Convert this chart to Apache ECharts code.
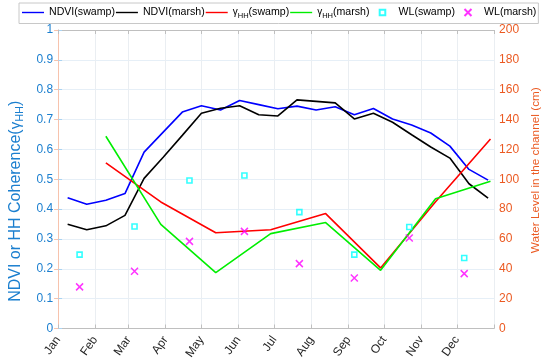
<!DOCTYPE html>
<html>
<head>
<meta charset="utf-8">
<script src="https://cdn.jsdelivr.net/npm/echarts@6/dist/echarts.min.js"></script>
<style>html,body{margin:0;padding:0;background:#fff;}#c{width:550px;height:362px;}</style>
</head>
<body>
<div id="c"></div>
<script>
// Month boundaries (day of year, 0 = Jan 1) and labels
var monthTicks = [0, 31, 59, 90, 120, 151, 181, 212, 243, 273, 304, 334, 365];
var monthLabels = ['Jan','Feb','Mar','Apr','May','Jun','Jul','Aug','Sep','Oct','Nov','Dec'];

// NDVI (16-day composites), day of year
var ndviDays = [8, 24, 40, 56, 72, 88, 104, 120, 136, 152, 168, 184, 200, 216, 232, 248, 264, 280, 296, 312, 328, 344, 360];
var ndviSwamp = [0.438, 0.416, 0.430, 0.452, 0.591, 0.658, 0.725, 0.746, 0.732, 0.764, 0.750, 0.736, 0.745, 0.732, 0.743, 0.716, 0.737, 0.702, 0.682, 0.655, 0.611, 0.533, 0.497];
var ndviMarsh = [0.349, 0.331, 0.344, 0.379, 0.503, 0.574, 0.647, 0.721, 0.738, 0.746, 0.716, 0.712, 0.766, 0.761, 0.756, 0.702, 0.721, 0.691, 0.649, 0.608, 0.571, 0.485, 0.437];

// HH coherence
var gammaDays = [40, 86, 132, 178, 224, 270, 316, 362];
var gammaSwamp = [0.555, 0.424, 0.321, 0.331, 0.385, 0.203, 0.425, 0.635];
var gammaMarsh = [0.644, 0.349, 0.187, 0.318, 0.355, 0.195, 0.435, 0.493];

// Water level (cm)
var wlDays = [18, 64, 110, 156, 202, 248, 294, 340];
var wlSwamp = [49.5, 68.4, 99.2, 102.5, 78, 49.5, 68, 47.3];
var wlMarsh = [27.9, 38.4, 58.4, 65.1, 43.5, 33.9, 60.7, 36.8];

function pairs(xs, ys) { return xs.map(function (x, i) { return [x, ys[i]]; }); }

var FONT = 'Liberation Sans, Arial, Helvetica, sans-serif';
var leftColor = '#1B7FCF';
var rightColor = '#EB5A22';

// legend icons: bounding points at (0,0) and (22,8) keep the mark small inside the icon box
var lineIcon = 'path://M0,0M22,8M0,3.3L22,3.3L22,4.7L0,4.7Z';
var squareIcon = 'path://M0,0M22,8M8.2,1.2L13.8,1.2L13.8,6.8L8.2,6.8Z';
var crossIcon = 'path://M0,0M22,8M7.5,0.5L14.5,7.5M14.5,0.5L7.5,7.5';

var chart = echarts.init(document.getElementById('c'), null, {renderer: 'canvas'});
var option = {
  animation: false,
  backgroundColor: '#fff',
  textStyle: {fontFamily: FONT},
  grid: {left: 49, right: 46, top: 30, bottom: 32, containLabel: false},
  legend: {
    left: 19, top: 3, width: 530,
    padding: [4, 2, 4, 3],
    itemGap: 1, itemWidth: 22, itemHeight: 8,
    borderColor: '#c8c8c8', borderWidth: 1, backgroundColor: '#fff',
    textStyle: {fontSize: 10.6, color: '#000', fontFamily: FONT,
      rich: {
        g: {fontSize: 10, color: '#000', fontFamily: FONT},
        s: {fontSize: 7.5, color: '#000', fontFamily: FONT, padding: [6, 0, 0, 0]},
        n: {fontSize: 10.6, color: '#000', fontFamily: FONT}
      }
    },
    formatter: function (name) {
      if (name.indexOf('γHH') === 0) {
        return '{g|γ}{s|HH}{n|' + name.slice(3) + '}';
      }
      return name;
    },
    data: [
      {name: 'NDVI(swamp)', icon: lineIcon},
      {name: 'NDVI(marsh)', icon: lineIcon},
      {name: 'γHH(swamp)', icon: lineIcon},
      {name: 'γHH(marsh)', icon: lineIcon},
      {name: 'WL(swamp)', icon: squareIcon},
      {name: 'WL(marsh)', icon: crossIcon}
    ]
  },
  xAxis: [{
    type: 'value', min: 0, max: 365, position: 'bottom',
    axisLine: {show: true, onZero: false, lineStyle: {color: '#bfbfbf', width: 1}},
    axisTick: {show: true, inside: true, length: 4, customValues: monthTicks, lineStyle: {color: '#bfbfbf'}},
    axisLabel: {
      customValues: monthTicks.slice(0, 12),
      formatter: function (v) { var i = monthTicks.indexOf(v); return i >= 0 && i < 12 ? monthLabels[i] : ''; },
      rotate: 55, fontSize: 12, color: '#262626', margin: 9, fontFamily: FONT
    },
    splitLine: {show: true, lineStyle: {color: '#eaeef2', width: 1}}
  }, {
    type: 'value', min: 0, max: 365, position: 'top',
    axisLine: {show: true, onZero: false, lineStyle: {color: '#bfbfbf', width: 1}},
    axisTick: {show: true, inside: true, length: 4, customValues: monthTicks, lineStyle: {color: '#bfbfbf'}},
    axisLabel: {show: false},
    splitLine: {show: false}
  }],
  yAxis: [{
    type: 'value', min: 0, max: 1, interval: 0.1, position: 'left',
    name: '{n|NDVI or HH Coherence(}{g|γ}{s|HH}{n|)}',
    nameLocation: 'middle', nameRotate: 90, nameGap: 26,
    nameTextStyle: {
      color: leftColor, fontSize: 16, fontFamily: FONT, padding: [0, 44, 0, 0],
      rich: {
        n: {color: leftColor, fontSize: 16, fontFamily: FONT},
        g: {color: leftColor, fontSize: 15, fontFamily: FONT},
        s: {color: leftColor, fontSize: 11, fontFamily: FONT, padding: [8, 0, 0, 0]}
      }
    },
    axisLine: {show: true, lineStyle: {color: '#a9d3f2', width: 1}},
    axisTick: {show: true, inside: true, length: 4, lineStyle: {color: '#a9d3f2'}},
    axisLabel: {
      color: leftColor, fontSize: 12, margin: 5, fontFamily: FONT,
      formatter: function (v) { return String(Math.round(v * 10) / 10); }
    },
    splitLine: {show: true, lineStyle: {color: '#e6eff7', width: 1}}
  }, {
    type: 'value', min: 0, max: 200, interval: 20, position: 'right',
    name: 'Water Level in the channel (cm)',
    nameLocation: 'middle', nameRotate: 90, nameGap: 30,
    nameTextStyle: {color: rightColor, fontSize: 11.8, fontFamily: FONT, padding: [0, 0, 0, 18]},
    axisLine: {show: true, lineStyle: {color: '#f7c3ad', width: 1}},
    axisTick: {show: true, inside: true, length: 4, lineStyle: {color: '#f7c3ad'}},
    axisLabel: {color: rightColor, fontSize: 12, margin: 5, fontFamily: FONT},
    splitLine: {show: false}
  }],
  series: [{
    name: 'NDVI(swamp)', type: 'line', xAxisIndex: 0, yAxisIndex: 0,
    data: pairs(ndviDays, ndviSwamp), symbol: 'none',
    lineStyle: {color: '#0000ff', width: 1.6}, itemStyle: {color: '#0000ff'}, z: 5
  }, {
    name: 'NDVI(marsh)', type: 'line', xAxisIndex: 0, yAxisIndex: 0,
    data: pairs(ndviDays, ndviMarsh), symbol: 'none',
    lineStyle: {color: '#000000', width: 1.6}, itemStyle: {color: '#000000'}, z: 5
  }, {
    name: 'γHH(swamp)', type: 'line', xAxisIndex: 0, yAxisIndex: 0,
    data: pairs(gammaDays, gammaSwamp), symbol: 'none',
    lineStyle: {color: '#ff0000', width: 1.6}, itemStyle: {color: '#ff0000'}, z: 5
  }, {
    name: 'γHH(marsh)', type: 'line', xAxisIndex: 0, yAxisIndex: 0,
    data: pairs(gammaDays, gammaMarsh), symbol: 'none',
    lineStyle: {color: '#00ee00', width: 1.6}, itemStyle: {color: '#00ee00'}, z: 5
  }, {
    name: 'WL(swamp)', type: 'scatter', xAxisIndex: 0, yAxisIndex: 1,
    data: pairs(wlDays, wlSwamp), symbol: 'rect', symbolSize: 5,
    itemStyle: {color: '#ffffff', borderColor: '#00ffff', borderWidth: 1.6}, z: 6
  }, {
    name: 'WL(marsh)', type: 'scatter', xAxisIndex: 0, yAxisIndex: 1,
    data: pairs(wlDays, wlMarsh), symbol: 'path://M0,0L10,10M10,0L0,10', symbolSize: 7,
    itemStyle: {color: 'rgba(0,0,0,0)', borderColor: '#ff00ff', borderWidth: 1.5}, z: 6
  }]
};
chart.setOption(option);
</script>
</body>
</html>
